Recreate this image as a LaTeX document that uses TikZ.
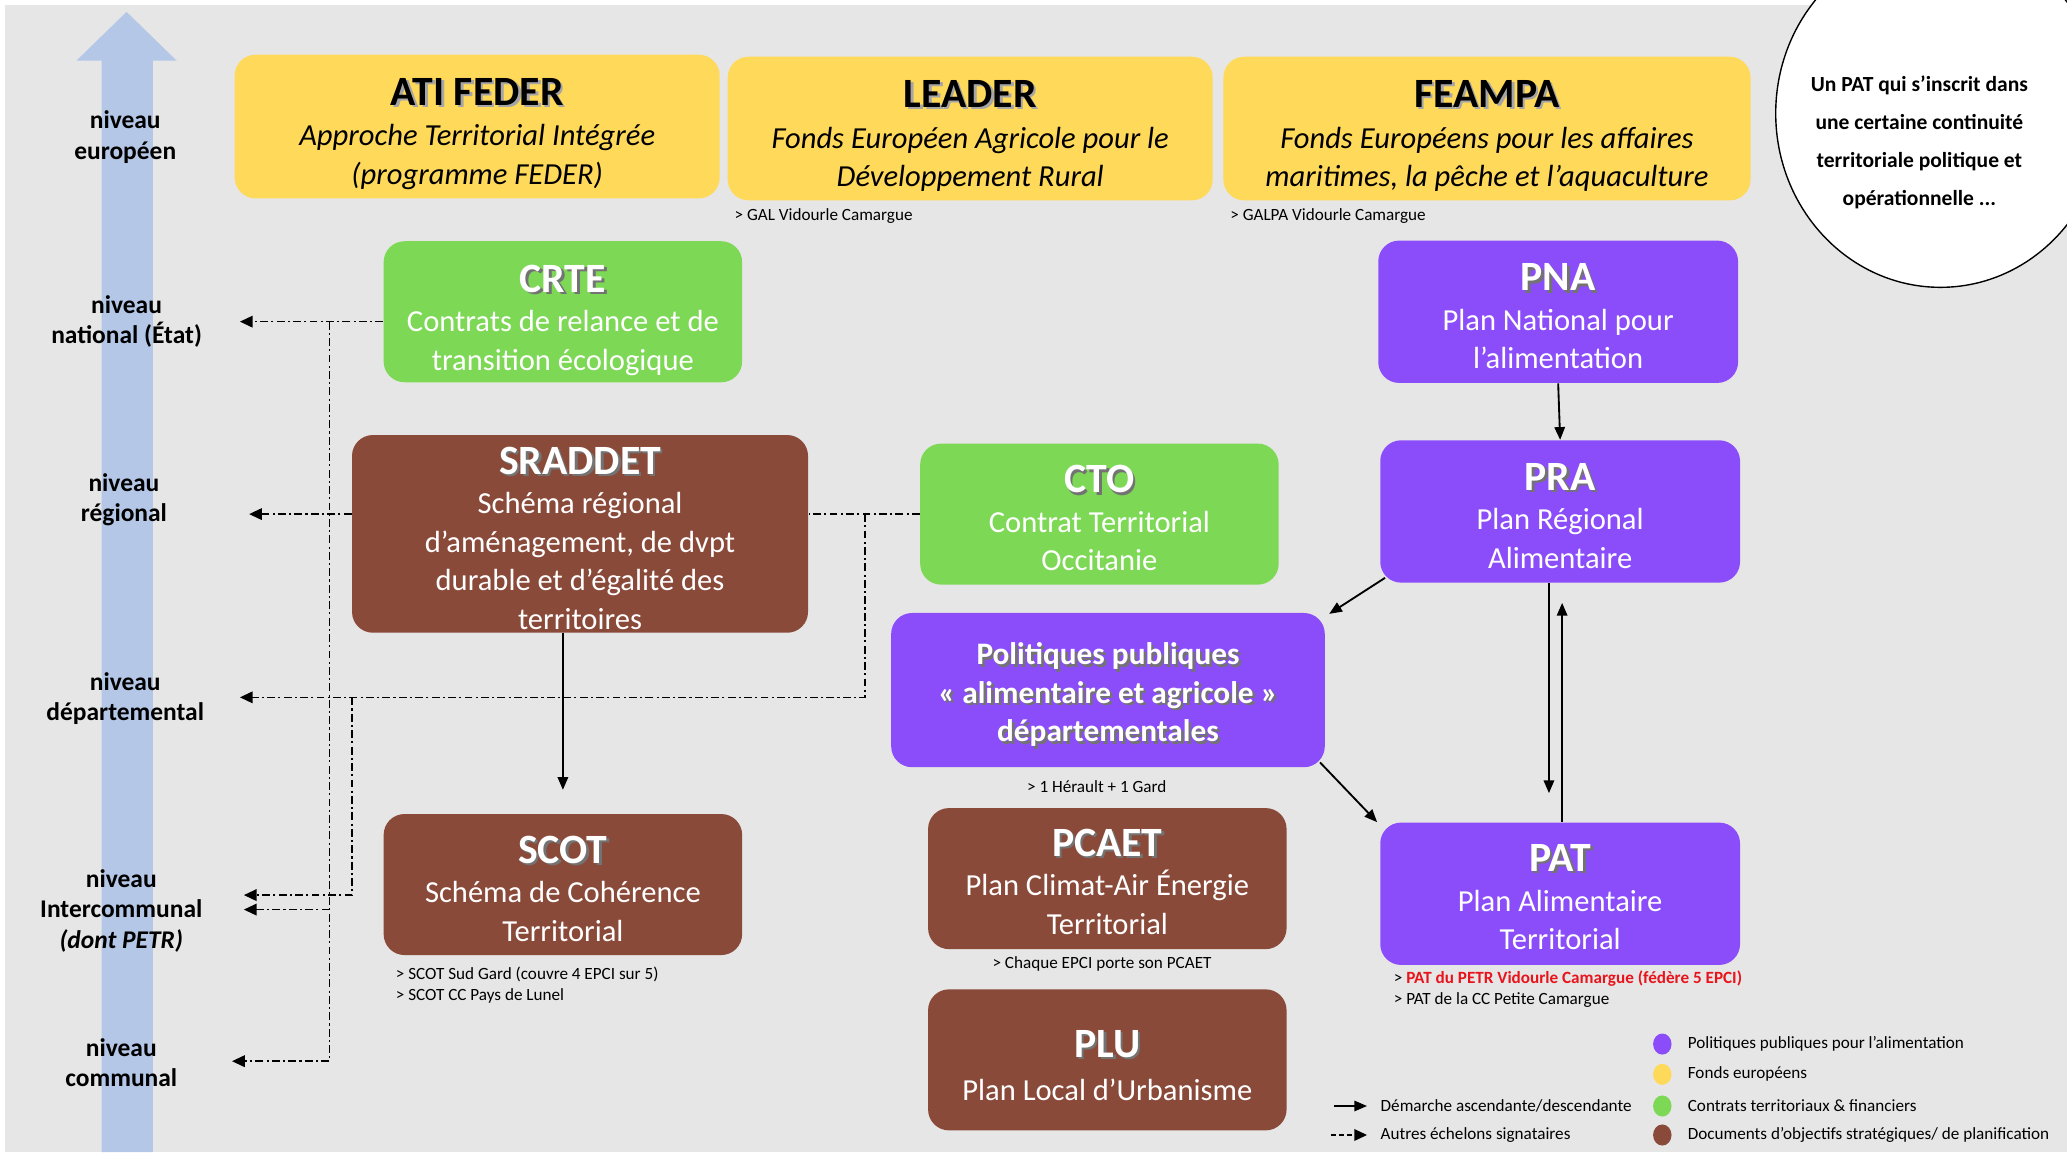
\documentclass[tikz,border=0pt]{standalone}
\usepackage{fontspec}
\setmainfont{Carlito}
\usetikzlibrary{arrows.meta,shapes.geometric,calc}
\definecolor{bgc}{HTML}{E7E6E6}
\definecolor{yel}{HTML}{FFD95A}
\definecolor{grn}{HTML}{7DD856}
\definecolor{pur}{HTML}{8B4DFA}
\definecolor{brn}{HTML}{8A4A3A}
\definecolor{axb}{HTML}{B4C7E7}
\definecolor{redn}{HTML}{E8141C}
\newcommand\shd[2]{\leavevmode\rlap{\hspace{1.1pt}\raisebox{-1.1pt}{\textcolor{#1}{#2}}}#2}
\newcommand\ttlf{\fontsize{18}{20}\selectfont\bfseries}
\newcommand\subf{\fontsize{13.2}{16.6}\selectfont}
% title line: #1 strut height, #2 shadow colour, #3 text
\newcommand\ttline[3]{{\ttlf\rule{0pt}{#1}\shd{#2}{#3}}}
\begin{document}
\begin{tikzpicture}[x=0.02cm,y=-0.02cm,
  box/.style={rounded corners=9pt, align=center, inner sep=0pt, font=\subf, text=white},
  ybox/.style={box, fill=yel, text=black, minimum height=2.18cm},
  gbox/.style={box, fill=grn, minimum width=5.44cm, minimum height=2.14cm},
  pbox/.style={box, fill=pur, minimum width=5.46cm, minimum height=2.16cm},
  bbox/.style={box, fill=brn, minimum width=5.44cm, minimum height=2.14cm},
  dd/.style={line width=0.7pt, dash pattern=on 3.4pt off 1.4pt on 0.9pt off 1.4pt, -{Triangle[length=5.5pt,width=5pt]}},
  sol/.style={line width=0.8pt, -{Triangle[length=5.5pt,width=4.5pt]}},
  lvl/.style={font=\fontsize{11}{13}\selectfont\bfseries, align=center, text=black, inner sep=0pt},
  note/.style={font=\fontsize{7.4}{9}\selectfont, text=black, inner sep=0pt, align=left},
  leg/.style={ellipse, inner sep=0pt, minimum width=0.28cm, minimum height=0.32cm}]
\useasboundingbox (0,0) rectangle (1568,874);
\fill[white] (0,0) rectangle (1568,874);
\fill[bgc] (4,4) rectangle (1568,874);
% vertical axis arrow
\fill[axb] (77,874) -- (77,46) -- (58,46) -- (96,9) -- (134,46) -- (116,46) -- (116,874) -- cycle;
% top-right ellipse
\begin{scope}
\clip (0,0) rectangle (1568,874);
\draw[fill=white, line width=0.6pt] (1472,86) ellipse [x radius=2.5cm, y radius=2.64cm];
\end{scope}
\node[font=\fontsize{9.3}{16.4}\selectfont\bfseries, align=center, inner sep=0pt] (circ) at (1456,108)
  {Un PAT qui s’inscrit dans\\une certaine continuité\\territoriale politique et\\opérationnelle ...};
% level labels
\node[lvl] (leu) at (95,104) {niveau\\européen};
\node[lvl] (lna) at (96,244) {niveau\\national (État)};
\node[lvl] (lre) at (94,379) {niveau\\régional};
\node[lvl] (lde) at (95,530) {niveau\\départemental};
\node[lvl] (lin) at (92,691) {niveau\\Intercommunal\\\textit{(dont PETR)}};
\node[lvl] (lco) at (92,806) {niveau\\communal};
% european funds
\node[ybox, minimum width=7.36cm] (ati) at (362,96)
  {\ttline{18pt}{black!35}{ATI FEDER}\\[1pt]{\itshape Approche Territorial Intégrée}\\{\itshape (programme FEDER)}};
\node[ybox, minimum width=7.36cm] (leader) at (736,97.5)
  {\ttline{18pt}{black!35}{LEADER}\\[1pt]{\itshape Fonds Européen Agricole pour le}\\{\itshape Développement Rural}};
\node[ybox, minimum width=8cm] (feampa) at (1128,97.5)
  {\ttline{18pt}{black!35}{FEAMPA}\\[1pt]{\itshape Fonds Européens pour les affaires}\\{\itshape maritimes, la pêche et l’aquaculture}};
\node[note, anchor=west] (ngal) at (557,164) {> GAL Vidourle Camargue};
\node[note, anchor=west] (ngalpa) at (933,164) {> GALPA Vidourle Camargue};
% national
\node[gbox] (crte) at (427,236.5)
  {\ttline{19pt}{black!55}{CRTE}\\[0.5pt]Contrats de relance et de\\transition écologique};
\node[pbox] (pna) at (1182,236.5)
  {\ttline{15.5pt}{black!55}{PNA}\\[0.5pt]Plan National pour\\l’alimentation};
% regional
\node[bbox, minimum width=6.92cm, minimum height=3cm] (sraddet) at (440,405)
  {\ttline{15.5pt}{black!55}{SRADDET}\\[0.5pt]Schéma régional\\d’aménagement, de dvpt\\durable et d’égalité des\\territoires};
\node[gbox] (cto) at (834,390)
  {\ttline{15.5pt}{black!55}{CTO}\\[0.5pt]Contrat Territorial\\Occitanie};
\node[pbox] (pra) at (1183.5,388)
  {\ttline{15.5pt}{black!55}{PRA}\\[0.5pt]Plan Régional\\Alimentaire};
% departmental
\node[box, fill=pur, minimum width=6.58cm, minimum height=2.34cm, font=\fontsize{13.5}{16.7}\selectfont\bfseries] (pol) at (840.5,523.5)
  {\rule{0pt}{14.5pt}\shd{black!55}{Politiques publiques}\\\shd{black!55}{« alimentaire et agricole »}\\\shd{black!55}{départementales}};
\node[note, anchor=center] (npol) at (832,597) {> 1 Hérault + 1 Gard};
% intercommunal
\node[bbox] (scot) at (427,671)
  {\ttline{15.5pt}{black!55}{SCOT}\\[0.5pt]Schéma de Cohérence\\Territorial};
\node[note, anchor=north west] (nscot) at (300,733)
  {> SCOT Sud Gard (couvre 4 EPCI sur 5)\\> SCOT CC Pays de Lunel};
\node[bbox] (pcaet) at (840,666.5)
  {\ttline{14.5pt}{black!55}{PCAET}\\[0.5pt]Plan Climat-Air Énergie\\Territorial};
\node[note, anchor=center] (npcaet) at (836,731) {> Chaque EPCI porte son PCAET};
\node[pbox] (pat) at (1183.5,678)
  {\ttline{14.5pt}{black!55}{PAT}\\[0.5pt]Plan Alimentaire\\Territorial};
\node[note, anchor=north west] (npat) at (1057,736)
  {> \textcolor{redn}{\bfseries PAT du PETR Vidourle Camargue (fédère 5 EPCI)}\\> PAT de la CC Petite Camargue};
% communal
\node[bbox] (plu) at (840,804)
  {\ttline{16.5pt}{black!55}{PLU}\\[2pt]Plan Local d’Urbanisme};
% arrow tips at level labels
\coordinate (nat) at (182,244);
\coordinate (reg) at (189,390);
\coordinate (dep) at (182,529);
\coordinate (int1) at (185,679);
\coordinate (int2) at (185,690);
\coordinate (com) at (176,805);
\coordinate (j1) at (250,244);
\coordinate (j2) at (656,390);
\coordinate (j3) at (267,529);
% dash-dot connectors
\draw[dd] (crte.west |- nat) -- (nat);
\draw[dd] (j1) |- (com);
\draw[dd] (j1 |- int2) -- (int2);
\draw[dd] (sraddet.west |- reg) -- (reg);
\draw[dd, -] (cto.west |- j2) -- (sraddet.east |- j2);
\draw[dd] (j2) |- (dep);
\draw[dd] (j3) |- (int1);
% solid connectors
\draw[sol] (pna.south) -- (pra.north);
\draw[sol] ($(pra.south west)+(4,-4)$) -- ($(pol.north east)+(3,1)$);
\draw[sol] ($(pol.south east)+(-4,-4)$) -- ($(pat.north west)+(-2,0)$);
\draw[sol] ($(pra.south)+(-8.5,0)$) -- ($(pat.north)+(-8.5,-22)$);
\draw[sol] ($(pat.north)+(1.5,0)$) -- ($(pra.south)+(1.5,15)$);
\draw[sol] (sraddet.south -| scot.north) -- ($(scot.north)+(0,-18)$);
% legend
\node[leg, fill=pur] (cpur) at (1261,792) {};
\node[leg, fill=yel] (cyel) at (1261,815) {};
\node[leg, fill=grn] (cgrn) at (1261,839) {};
\node[leg, fill=brn] (cbrn) at (1261,861) {};
\node[note, anchor=west] (tpur) at (1280,792) {Politiques publiques pour l’alimentation};
\node[note, anchor=west] (tyel) at (1280,815) {Fonds européens};
\node[note, anchor=west] (tgrn) at (1280,839) {Contrats territoriaux \& financiers};
\node[note, anchor=west] (tbrn) at (1280,861) {Documents d’objectifs stratégiques/ de planification};
\coordinate (la1) at (1012,839);
\coordinate (la2) at (1037,839);
\coordinate (lb1) at (1010,861);
\coordinate (lb2) at (1037,861);
\draw[sol] (la1) -- (la2);
\draw[line width=0.7pt, dash pattern=on 2pt off 1.4pt, -{Triangle[length=5.5pt,width=5pt]}] (lb1) -- (lb2);
\node[note, anchor=west] (tla) at (1047,839) {Démarche ascendante/descendante};
\node[note, anchor=west] (tlb) at (1047,861) {Autres échelons signataires};
\end{tikzpicture}
\end{document}
